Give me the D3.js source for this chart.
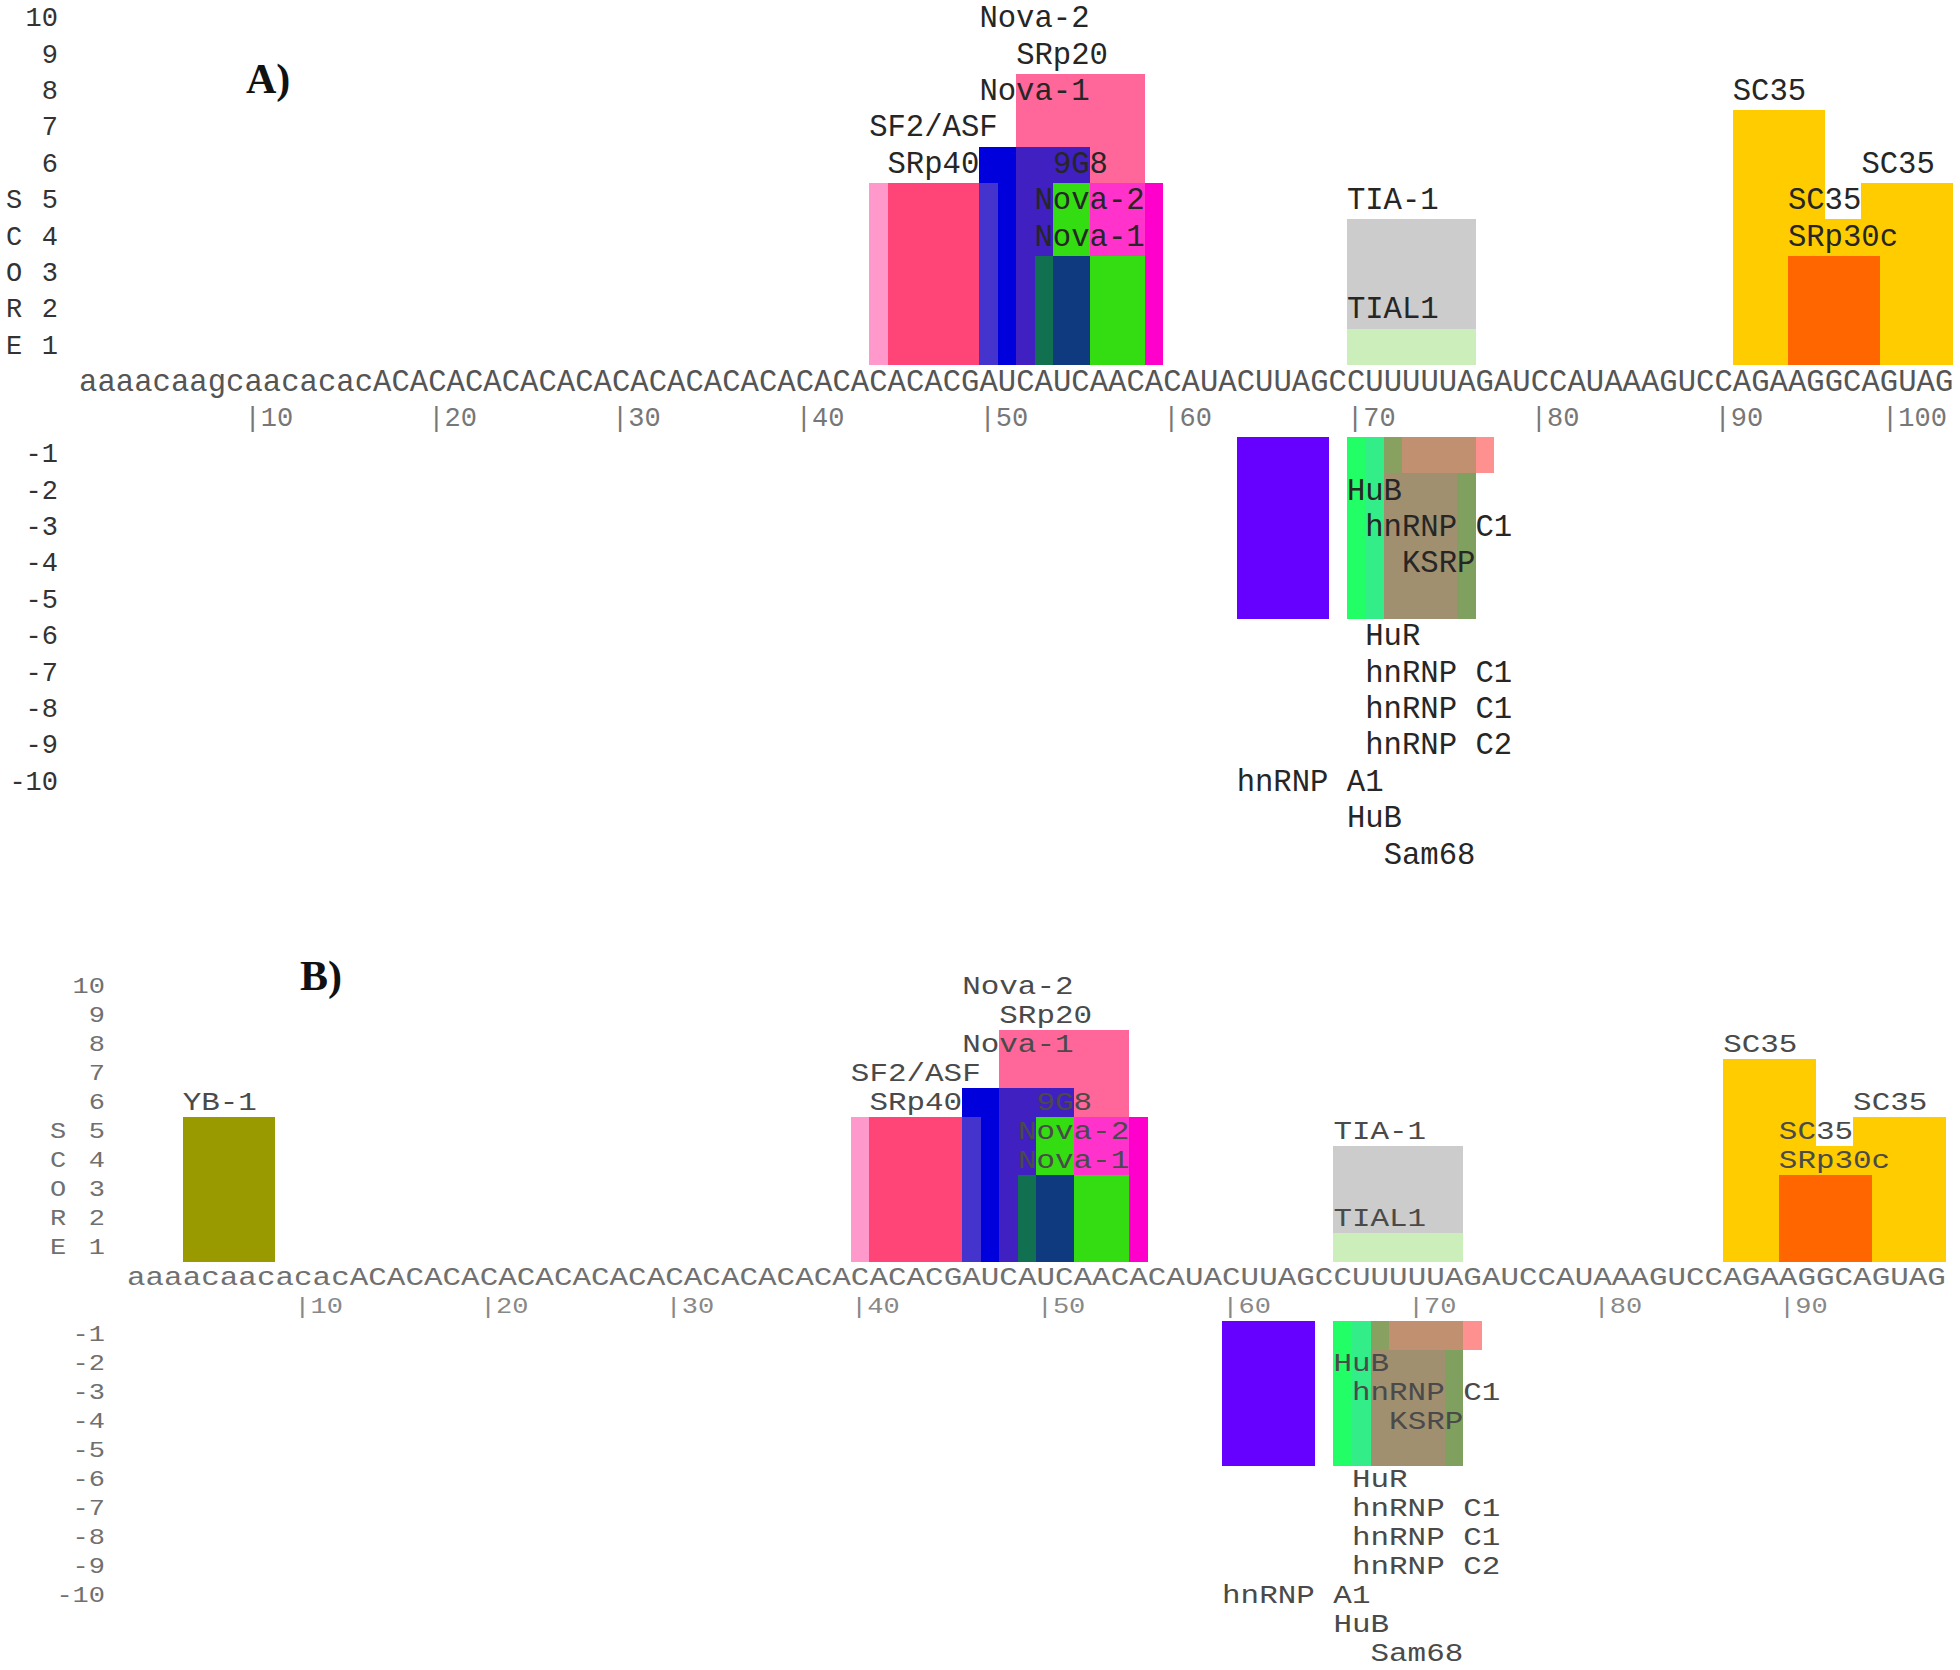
<!DOCTYPE html>
<html>
<head>
<meta charset="utf-8">
<script src="https://cdn.jsdelivr.net/npm/d3@7"></script>
<style>
  body { margin: 0; background: #fff; }
</style>
</head>
<body>
<svg width="1960" height="1670"></svg>
<script>
// sequences (panel A is the reference numbering, B is 4 nt shorter at the 5' end)
const seqTail = 'GAUCAUCAACACAUACUUAGCCUUUUUAGAUCCAUAAAGUCCAGAAGGCAGUAG'
const seqA = 'aaaacaagcaacacac' + 'ACACACAC' + 'ACACACAC' + 'ACACACAC' + 'ACACACAC' + seqTail
const seqB = 'aaaacaacacac' + 'ACACACAC' + 'ACACACAC' + 'ACACACAC' + 'ACACACAC' + seqTail

const ticksA = [10, 20, 30, 40, 50, 60, 70, 80, 90, 100]
const ticksB = [10, 20, 30, 40, 50, 60, 70, 80, 90]
const scoreTicks = [1, 2, 3, 4, 5, 6, 7, 8, 9, 10]
const scoreLetters = ['S', 'C', 'O', 'R', 'E']

// [first nt, last nt, score, colour key] in panel A numbering, back to front
const enhancerBoxes = [
  [44, 50, 5, 'sf2'],
  [45, 49, 5, 'srp40'],
  [52, 58, 8, 'srp20'],
  [50, 55, 6, '9g8'],
  [52, 55, 6, 'mixBluePink'],
  [50, 50, 5, 'mixBlueLight'],
  [54, 59, 5, 'nova2'],
  [56, 58, 5, 'mixMagenta'],
  [54, 55, 5, 'nova1'],
  [56, 58, 3, 'nova1'],
  [53, 53, 3, 'mixTeal'],
  [54, 55, 3, 'mixNavy'],
  [70, 76, 4, 'tia1'],
  [70, 76, 1, 'tial1'],
  [91, 95, 7, 'sc35'],
  [98, 102, 5, 'sc35'],
  [94, 99, 4, 'sc35'],
  [94, 98, 3, 'srp30c']
]

const silencerBoxes = [
  [64, 68, -5, 'hnrnpa1'],
  [70, 76, -5, 'olive'],
  [70, 70, -5, 'hub'],
  [71, 71, -5, 'mixHuR'],
  [72, 75, -5, 'tan'],
  [73, 77, -1, 'salmon'],
  [73, 76, -1, 'brown'],
  [72, 72, -1, 'olive2']
]

// only in panel B, panel B numbering
const extraBoxesB = [
  [4, 8, 5, 'yb1']
]

// [text, first nt, row] rows count away from the sequence
const enhancerLabels = [
  ['Nova-2', 50, 10], ['SRp20', 52, 9], ['Nova-1', 50, 8], ['SF2/ASF', 44, 7],
  ['SRp40', 45, 6], ['9G8', 54, 6], ['Nova-2', 53, 5], ['Nova-1', 53, 4],
  ['TIA-1', 70, 5], ['TIAL1', 70, 2],
  ['SC35', 91, 8], ['SC35', 98, 6], ['SC35', 94, 5], ['SRp30c', 94, 4]
]
const silencerLabels = [
  ['HuB', 70, -2], ['hnRNP C1', 71, -3], ['KSRP', 73, -4], ['HuR', 71, -6],
  ['hnRNP C1', 71, -7], ['hnRNP C1', 71, -8], ['hnRNP C2', 71, -9],
  ['hnRNP A1', 64, -10], ['HuB', 70, -11], ['Sam68', 72, -12]
]
const extraLabelsB = [['YB-1', 4, 6]]

const colors = {
  sf2: '#ff99cc', srp40: '#ff4477', srp20: '#ff6699', '9g8': '#0000dd',
  mixBluePink: '#4020c0', mixBlueLight: '#4433cc', nova2: '#ff00cc',
  mixMagenta: '#ff33cc', nova1: '#33dd11', mixTeal: '#107050', mixNavy: '#103a80',
  tia1: '#cccccc', tial1: '#cceebb', sc35: '#ffcc00', srp30c: '#ff6600',
  hnrnpa1: '#6600ff', olive: '#80a060', hub: '#22ff66', mixHuR: '#33ee88',
  tan: '#a09070', salmon: '#ff9090', brown: '#c09070', olive2: '#88a060',
  yb1: '#999900'
}

const FONT = '"Courier New", "Liberation Mono", monospace'
const svg = d3.select('svg')

function drawPanel(p) {
  const n = p.seq.length
  const x = d3.scaleLinear().domain([1, n + 1]).range([p.x0, p.x0 + n * p.cw])
  const y = d3.scaleLinear().domain([0, 10]).range([p.base, p.base - 10 * p.unit])
  const yNeg = d3.scaleLinear().domain([0, -10]).range([p.negZero, p.negZero + 10 * p.unit])
  const g = svg.append('g')
  const fs = p.cw / 0.6

  const boxes = enhancerBoxes.concat(silencerBoxes)
    .map(d => [d[0] - p.shift, d[1] - p.shift, d[2], d[3]])
    .concat(p.extraBoxes)

  g.selectAll('rect.box')
    .data(boxes)
    .join('rect')
    .attr('class', 'box')
    .attr('shape-rendering', 'crispEdges')
    .attr('x', d => x(d[0]))
    .attr('width', d => x(d[1] + 1) - x(d[0]))
    .attr('y', d => d[2] > 0 ? y(d[2]) : yNeg(0))
    .attr('height', d => d[2] > 0 ? y(0) - y(d[2]) : yNeg(d[2]) - yNeg(0))
    .attr('fill', d => colors[d[3]])

  const place = (sel, fx, fy) =>
    sel.attr('transform', (d, i) => `translate(${fx(d, i)},${fy(d, i)}) scale(1,${p.sy})`)

  const rowY = r => r > 0 ? y(r - 0.5) : yNeg(r + 0.5)

  // protein labels
  const labels = enhancerLabels.concat(silencerLabels)
    .map(d => [d[0], d[1] - p.shift, d[2]])
    .concat(p.extraLabels)
  g.selectAll('text.prot')
    .data(labels)
    .join('text')
    .attr('class', 'prot')
    .attr('font-family', FONT)
    .attr('font-size', fs)
    .attr('fill', p.labelColor)
    .attr('dominant-baseline', 'central')
    .attr('xml:space', 'preserve')
    .text(d => d[0])
    .call(place, d => x(d[1]), d => rowY(d[2]))

  // sequence, one letter per nucleotide
  g.selectAll('text.nt')
    .data(p.seq.split(''))
    .join('text')
    .attr('class', 'nt')
    .attr('font-family', FONT)
    .attr('font-size', fs)
    .attr('fill', p.seqColor)
    .attr('text-anchor', 'middle')
    .attr('dominant-baseline', 'central')
    .text(d => d)
    .call(place, (d, i) => x(i + 1) + p.cw / 2, () => p.seqY)

  // position ticks
  g.selectAll('text.pos')
    .data(p.ticks)
    .join('text')
    .attr('class', 'pos')
    .attr('font-family', FONT)
    .attr('font-size', p.axisSize)
    .attr('fill', p.tickColor)
    .attr('text-anchor', 'end')
    .attr('dominant-baseline', 'central')
    .text(d => '|' + d)
    .call(place, d => x(d) + p.cw * 0.45 + 3 * p.axisSize * 0.6 - p.axisSize * 0.3, () => p.tickY)

  // score axis
  const scores = scoreTicks.concat(scoreTicks.map(d => -d))
  g.selectAll('text.score')
    .data(scores)
    .join('text')
    .attr('class', 'score')
    .attr('font-family', FONT)
    .attr('font-size', p.axisSize)
    .attr('fill', p.axisColor)
    .attr('text-anchor', 'end')
    .attr('dominant-baseline', 'central')
    .text(d => d)
    .call(place, () => p.axisRight, d => rowY(d))

  g.selectAll('text.word')
    .data(scoreLetters)
    .join('text')
    .attr('class', 'word')
    .attr('font-family', FONT)
    .attr('font-size', p.axisSize)
    .attr('fill', p.axisColor)
    .attr('dominant-baseline', 'central')
    .text(d => d)
    .call(place, () => p.scoreX, (d, i) => rowY(5 - i))

  g.append('text')
    .attr('x', p.titleX)
    .attr('y', p.titleY)
    .attr('font-family', '"Liberation Serif", "Times New Roman", serif')
    .attr('font-weight', 'bold')
    .attr('font-size', 42)
    .attr('fill', '#111')
    .text(p.title)
}

drawPanel({
  seq: seqA, shift: 0, ticks: ticksA, extraBoxes: [], extraLabels: [],
  x0: 79, cw: 18.375, base: 365, unit: 36.4, negZero: 437,
  seqY: 383, tickY: 419, axisRight: 58, scoreX: 6, axisSize: 27, sy: 1,
  labelColor: '#262626', seqColor: '#555', tickColor: '#777', axisColor: '#333',
  title: 'A)', titleX: 246, titleY: 93
})

drawPanel({
  seq: seqB, shift: 4, ticks: ticksB, extraBoxes: extraBoxesB, extraLabels: extraLabelsB,
  x0: 127, cw: 18.56, base: 1262, unit: 29.0, negZero: 1320.5,
  seqY: 1278, tickY: 1307, axisRight: 105, scoreX: 50, axisSize: 27, sy: 0.82,
  labelColor: '#4a4a4a', seqColor: '#707070', tickColor: '#888', axisColor: '#707070',
  title: 'B)', titleX: 300, titleY: 990
})
</script>
</body>
</html>
